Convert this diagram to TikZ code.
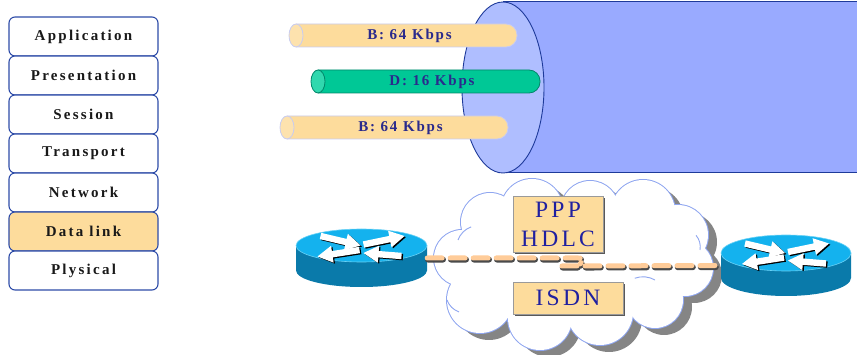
\documentclass[tikz,border=0pt]{standalone}
\usepackage{fontspec}
\setmainfont{Liberation Serif}
\usetikzlibrary{shapes.geometric,shadows,calc}

\definecolor{layerline}{HTML}{2E4CA8}
\definecolor{layertan}{HTML}{FDDC9C}
\definecolor{pipetan}{HTML}{FDDC9C}
\definecolor{pipecap}{HTML}{FDE2AE}
\definecolor{pipeedge}{HTML}{C8CCF0}
\definecolor{pipegreen}{HTML}{00C896}
\definecolor{greencap}{HTML}{30D8AE}
\definecolor{greenedge}{HTML}{00876A}
\definecolor{pipeink}{HTML}{2A2A8C}
\definecolor{bodyblue}{HTML}{99AAFF}
\definecolor{faceblue}{HTML}{AFBEFF}
\definecolor{trunkedge}{HTML}{1E3A9A}
\definecolor{cloudedge}{HTML}{8FA6F0}
\definecolor{cloudshadow}{HTML}{858585}
\definecolor{protoink}{HTML}{2020A0}
\definecolor{protoedge}{HTML}{9A9A9A}
\definecolor{linkorange}{HTML}{FFCC99}
\definecolor{linkshadow}{HTML}{4A4A4A}
\definecolor{routertop}{HTML}{14B2EE}
\definecolor{routerrim}{HTML}{6AD2F6}
\definecolor{routerside}{HTML}{0A7AAA}

\newcommand\layerfont{\bfseries\fontsize{15}{17}\selectfont\addfontfeature{LetterSpace=15}}
\newcommand\pipefont{\bfseries\fontsize{15}{17}\selectfont\addfontfeature{LetterSpace=12}}
\newcommand\protofont{\fontsize{23.5}{30}\selectfont\addfontfeature{LetterSpace=14}}

% a channel drawn as a tube: name, cap x, end x, centre y, fill, edge, cap fill, label
\newcommand\channel[8]{%
  \filldraw[fill=#5, draw=#6, line width=0.8pt, rounded corners=11pt]
    (#2,#4-11.5) -- (#3,#4-11.5) -- (#3,#4+11.5) -- (#2,#4+11.5);
  \filldraw[fill=#7, draw=#6, line width=0.8pt] (#2,#4) ellipse [x radius=7, y radius=11.5];
  \node[pipetext] (#1) at ({(#2+#3)/2+3},#4) {#8};
}

% the four arrows on a router top, centred on (#1,#2), in colour #3
\newcommand\emblem[3]{%
  \begin{scope}[shift={(#1,#2)}]
    \coordinate (t1) at (-41,-11); \coordinate (p1) at (-1,-1.5);
    \coordinate (t2) at (2,-2.5);  \coordinate (p2) at (43,-11);
    \coordinate (t3) at (-2,3);    \coordinate (p3) at (-44,9.5);
    \coordinate (t4) at (40,9);    \coordinate (p4) at (2,6);
  \end{scope}
  \foreach \i in {1,2,3,4}{
    \coordinate (h\i) at ($(p\i)!15pt!(t\i)$);
    \fill[#3] ($(t\i)!3.2pt!90:(p\i)$) -- ($(h\i)!3.2pt!-90:(t\i)$) -- ($(h\i)!8.5pt!-90:(t\i)$)
      -- (p\i) -- ($(h\i)!8.5pt!90:(t\i)$) -- ($(h\i)!3.2pt!90:(t\i)$)
      -- ($(t\i)!3.2pt!-90:(p\i)$) -- cycle;
  }
}

% router: name, centre x, top centre y, x radius, y radius, side height
\newcommand\router[6]{%
  \fill[routerside] ({#2-#4},#3) -- ({#2-#4},{#3+#6})
    arc[start angle=180, end angle=0, x radius=#4, y radius=#5] -- ({#2+#4},#3) -- cycle;
  \filldraw[fill=routertop, draw=routerrim, line width=0.6pt] (#2,#3) ellipse [x radius=#4, y radius=#5];
  \emblem{#2+1.4}{#3+2.6}{black}
  \emblem{#2}{#3+1.5}{white}
  \node[inner sep=0pt, minimum width={2*#4}, minimum height={2*#5+#6}] (#1) at (#2,{#3+#6/2}) {};
}

\begin{document}
\begin{tikzpicture}[x=1pt, y=-1pt,
  layer/.style={draw=layerline, line width=1.1pt, fill=white, rounded corners=6pt,
    minimum width=149pt, minimum height=39pt, inner sep=0pt, font=\layerfont, text=black!90},
  pipetext/.style={inner sep=0pt, font=\pipefont, text=pipeink},
  protobox/.style={draw=protoedge, line width=0.8pt, fill=layertan, inner sep=0pt,
    font=\protofont, text=protoink, align=center,
    drop shadow={shadow xshift=1.8pt, shadow yshift=-1.8pt, fill=black!65, opacity=1}},
  link/.style={line width=5pt, linkorange, line cap=round, dash pattern=on 15pt off 8pt},
  linkshade/.style={line width=6pt, linkshadow, line cap=round, dash pattern=on 15pt off 8pt,
    transform canvas={shift={(0.8pt,-1.6pt)}}},
]
\useasboundingbox (0,0) rectangle (857,355);

% ---- OSI layer stack ----
\node[layer] (app)  at (83.5,36.5)  {Application};
\node[layer] (pres) at (83.5,75.5)  {Presentation};
\node[layer] (sess) at (83.5,114.5) {Session};
\node[layer] (tran) at (83.5,153.5) {Transport};
\node[layer] (netw) at (83.5,192.5) {Network};
\node[layer, fill=layertan] (dlink) at (83.5,231.5) {Data link};
\node[layer] (phys) at (83.5,270.5) {Plysical};

% ---- trunk carrying the channels ----
\fill[bodyblue] (503,2) rectangle (857,173);
\draw[trunkedge, line width=1pt] (503,2) -- (857,2);
\draw[trunkedge, line width=1pt] (503,173) -- (857,173);
\node[ellipse, draw=trunkedge, fill=faceblue, line width=0.9pt, inner sep=0pt,
  minimum width=82pt, minimum height=171pt] (trunk) at (503,87.5) {};

\channel{b1}{296}{517}{35.5}{pipetan}{pipeedge}{pipecap}{B: 64 Kbps}
\channel{dch}{318}{540}{81.5}{pipegreen}{greenedge}{greencap}{D: 16 Kbps}
\channel{b2}{287}{508}{127.5}{pipetan}{pipeedge}{pipecap}{B: 64 Kbps}

% ---- cloud ----
\newcommand\cloudparts[1]{%
  \foreach \cx/\cy/\r in {462/258/28, 490/222/29, 532/210/31, 590/210/29, 643/212/32,
      678/235/30, 685/268/28, 655/300/28, 600/312/33, 540/318/32, 480/300/33}{
    #1 (\cx,\cy) circle (\r);
  }
  #1 (575,262) ellipse [x radius=110, y radius=50];
}
\begin{scope}[shift={(9,7)}]
  \cloudparts{\fill[cloudshadow]}
\end{scope}
\cloudparts{\draw[cloudedge, line width=2pt]}
\cloudparts{\fill[white]}
% creases inside the cloud
\draw[cloudedge, line width=0.9pt] (458,240) arc[start angle=200, end angle=250, radius=22];
\draw[cloudedge, line width=0.9pt] (447,300) arc[start angle=160, end angle=110, radius=20];
\draw[cloudedge, line width=0.9pt] (700,250) arc[start angle=10, end angle=-40, radius=18];
\draw[cloudedge, line width=0.9pt] (655,280) arc[start angle=300, end angle=250, radius=24];

% ---- protocol labels ----
\node[protobox, minimum width=90pt, minimum height=56pt] (ppp) at (558,224) {PPP\\[-1pt]HDLC};
\node[protobox, minimum width=110pt, minimum height=32pt] (isdn) at (568,298) {ISDN};

% ---- routers ----
\router{lr}{361.5}{245.5}{65.5}{16.5}{25}
\router{rr}{786}{253}{65}{18}{25}

% ---- serial link between the routers ----
\coordinate (bend) at (578,258);
\coordinate (drop) at (562,266);
\draw[linkshade] (lr.east) -- (bend) .. controls (585,258) .. (580,264);
\draw[linkshade] (drop) -- (rr.west);
\draw[link] (lr.east) -- (bend) .. controls (585,258) .. (580,264);
\draw[link] (drop) -- (rr.west);
\end{tikzpicture}
\end{document}
